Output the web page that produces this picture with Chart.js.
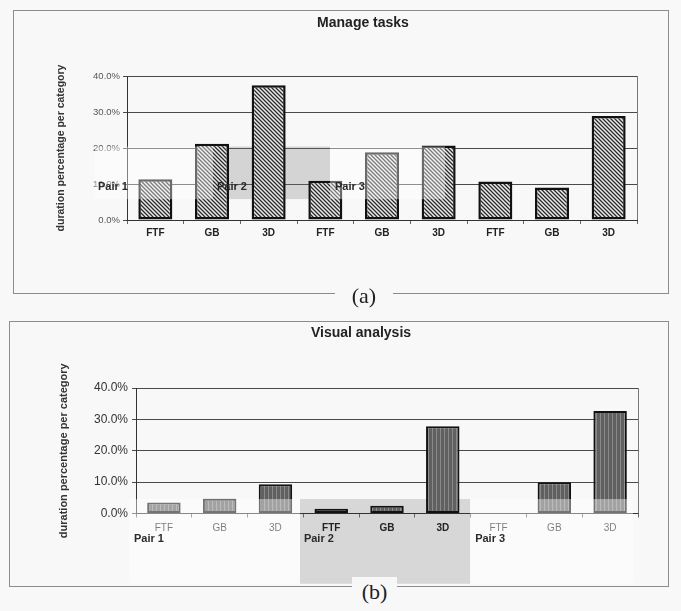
<!DOCTYPE html>
<html><head><meta charset="utf-8">
<script src="https://cdn.jsdelivr.net/npm/chart.js@4"></script>
<style>
html,body{margin:0;padding:0;background:#f8f8f8;width:681px;height:611px;overflow:hidden;font-family:"Liberation Sans",Arial,sans-serif}
.panel{position:absolute;border:1px solid #8c8c8c;box-sizing:border-box}
.cap{position:absolute;z-index:3;font-family:"Liberation Serif","Times New Roman",serif;font-size:22px;color:#222;background:#f8f8f8;text-align:center}
canvas{position:absolute;left:0;z-index:2}
</style></head><body>
<div class="panel" style="left:13px;top:10px;width:656px;height:284px"></div>
<div class="cap" style="left:335px;top:284px;width:58px;height:24px;line-height:24px">(a)</div>
<div class="panel" style="left:9px;top:321px;width:660px;height:266px"></div>
<div class="cap" style="left:352px;top:577px;width:45px;height:28px;line-height:30px">(b)</div>
<canvas id="a" width="681" height="300" style="top:0"></canvas>
<canvas id="b" width="681" height="300" style="top:310px"></canvas>
<script>
// ---- data ----
const categories = ['FTF','GB','3D','FTF','GB','3D','FTF','GB','3D'];
const pairLabels = ['Pair 1','Pair 2','Pair 3'];
const yTickValues = [0,10,20,30,40];
const manageTasks = [11.3,21.2,37.4,10.9,18.8,20.7,10.7,9.0,28.9];
const visualAnalysis = [3.5,4.7,9.3,1.5,2.5,27.8,0,10.0,32.7];
const titleA = 'Manage tasks';
const titleB = 'Visual analysis';
const yTitle = 'duration percentage per category';

const FAM = '"Liberation Sans", Arial, sans-serif';
Chart.defaults.font.family = FAM;

function hatch(ctx){
  const c=document.createElement('canvas'); c.width=c.height=4;
  const g=c.getContext('2d'); g.fillStyle='#ececec'; g.fillRect(0,0,4,4);
  g.strokeStyle='#2a2a2a'; g.lineWidth=1.3;
  g.beginPath(); g.moveTo(-1,-1); g.lineTo(5,5); g.moveTo(-1,3); g.lineTo(1,5); g.moveTo(3,-1); g.lineTo(5,1); g.stroke();
  return ctx.createPattern(c,'repeat');
}
function vstripes(ctx){
  const c=document.createElement('canvas'); c.width=4; c.height=2;
  const g=c.getContext('2d'); g.fillStyle='#606060'; g.fillRect(0,0,4,2);
  g.fillStyle='#8a8a8a'; g.fillRect(0,0,1,2);
  return ctx.createPattern(c,'repeat');
}

// decorations: regions given in category units (0..9 across the plot) and value units
const decor = {
  id:'decor',
  _rect(chart, r){
    const xs=chart.scales.x, ys=chart.scales.y, u=(xs.right-xs.left)/categories.length;
    const x0=xs.left+r.x0*u, x1=xs.left+r.x1*u;
    const y0=ys.getPixelForValue(r.y0), y1=ys.getPixelForValue(r.y1);
    const c=chart.ctx; c.save(); c.fillStyle=r.color;
    c.fillRect(x0,Math.min(y0,y1),x1-x0,Math.abs(y1-y0)); c.restore();
  },
  beforeDraw(chart,a,o){ (o.bg||[]).forEach(r=>this._rect(chart,r)); },
  beforeDatasetsDraw(chart,a,o){ (o.under||[]).forEach(r=>this._rect(chart,r)); },
  afterDatasetsDraw(chart,a,o){
    (o.over||[]).forEach(r=>this._rect(chart,r));
    const c=chart.ctx, ca=chart.chartArea, xs=chart.scales.x, ys=chart.scales.y;
    const u=(xs.right-xs.left)/categories.length;
    c.save();
    c.strokeStyle='#777'; c.lineWidth=1; c.beginPath();
    c.moveTo(Math.round(ca.right)+0.5,ca.top); c.lineTo(Math.round(ca.right)+0.5,ca.bottom); c.stroke();
    c.fillStyle='#2a2a2a'; c.font='bold 11px '+FAM; c.textAlign='left'; c.textBaseline='middle';
    pairLabels.forEach((t,i)=>{ c.fillText(t, xs.left+o.pairX[i]*u, ys.getPixelForValue(o.pairY)); });
    c.restore();
  }
};

function makeChart(id, title, values, opt){
  const ctx=document.getElementById(id).getContext('2d');
  return new Chart(ctx,{
    type:'bar',
    data:{labels:categories, datasets:[{data:values, backgroundColor:opt.fill(ctx), borderColor:'#111',
      borderWidth:opt.bw, borderSkipped:false, barPercentage:0.6, categoryPercentage:1}]},
    options:{
      responsive:false, animation:false, devicePixelRatio:1,
      layout:{padding:{left:opt.padL,right:0,top:0,bottom:opt.padB}},
      plugins:{legend:{display:false}, tooltip:{enabled:false},
        title:{display:true,text:title,color:'#222',font:{size:14,weight:'bold'},padding:{top:14.6,bottom:opt.titleB}},
        decor:opt.decor},
      scales:{
        x:{grid:{display:true,drawOnChartArea:false,drawTicks:true,tickLength:4,color:'#666'},
           border:{color:'#333',width:1},
           ticks:{padding:opt.xPad,autoSkip:false,maxRotation:0,font:opt.xFont,color:opt.xColor},
           afterFit:s=>{s.height=30;}},
        y:{min:0,max:40,afterBuildTicks:s=>{s.ticks=yTickValues.map(v=>({value:v}));},
           ticks:{callback:v=>Number(v).toFixed(1)+'%',padding:opt.yPad,font:{size:opt.yFs},color:opt.yColor},
           grid:{color:'#4a4a4a',tickLength:4},border:{color:'#333'},
           title:{display:true,text:yTitle,color:'#333',font:{size:opt.ytFs,weight:'bold'},padding:{top:opt.ytPad,bottom:0}},
           afterFit:s=>{s.width=opt.yW;}},
        y2:{position:'right',display:true,grid:{display:false},ticks:{display:false},border:{display:false},
           afterFit:s=>{s.width=opt.y2W;}}
      }
    },
    plugins:[decor]
  });
}

makeChart('a', titleA, manageTasks, {
  fill:hatch, bw:2.5, padL:45, padB:50, titleB:44.6, yW:82, y2W:44, ytFs:10.5, ytPad:9.4,
  yFs:9.5, yPad:3, yColor:'#555', xPad:3,
  xFont:{size:10,weight:'bold'}, xColor:'#222',
  decor:{
    under:[{x0:1.518,x1:3.582,y0:5.8,y1:20.4,color:'rgba(120,120,120,0.28)'}],
    over:[{x0:-0.565,x1:1.518,y0:5.8,y1:20.4,color:'rgba(255,255,255,0.38)'},
          {x0:3.582,x1:5.612,y0:5.8,y1:20.4,color:'rgba(255,255,255,0.38)'}],
    pairX:[-0.512,1.588,3.67], pairY:9.2
  }
});

makeChart('b', titleB, visualAnalysis, {
  fill:vstripes, bw:2, padL:41, padB:66.5, titleB:46.6, yW:95, y2W:43, ytFs:11, ytPad:16.4,
  yFs:12, yPad:4, yColor:'#333', xPad:4.5,
  xFont:c=>({size:10,weight:(c.index>=3&&c.index<=5)?'bold':'normal'}), xColor:'#222',
  decor:{
    bg:[{x0:2.94,x1:5.99,y0:4.6,y1:-22.4,color:'rgba(128,128,128,0.28)'}],
    over:[{x0:-0.125,x1:2.94,y0:4.6,y1:-22.4,color:'rgba(255,255,255,0.42)'},
          {x0:5.99,x1:8.91,y0:4.6,y1:-22.4,color:'rgba(255,255,255,0.42)'}],
    pairX:[-0.036,3.01,6.08], pairY:-8.1
  }
});
</script>
</body></html>
